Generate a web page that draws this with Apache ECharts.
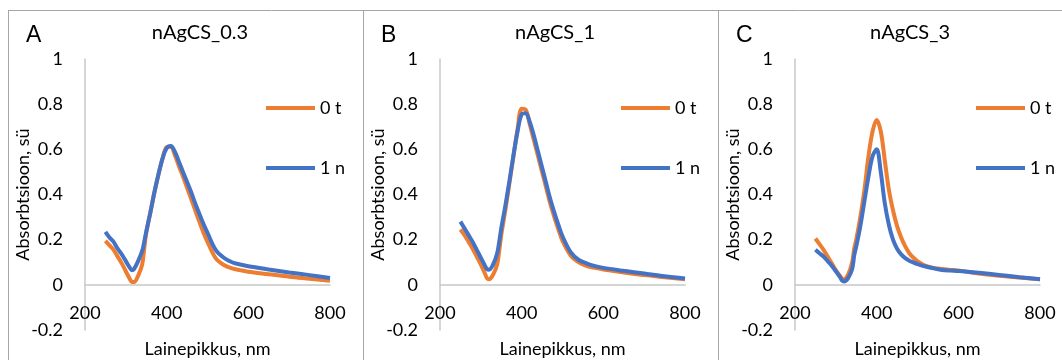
<!DOCTYPE html>
<html>
<head>
<meta charset="utf-8">
<script src="https://cdn.jsdelivr.net/npm/echarts@6/dist/echarts.min.js"></script>
<style>
html,body{margin:0;padding:0;background:#fff;}
#c{width:1062px;height:360px;}
</style>
</head>
<body>
<div id="c"></div>
<script>
const wavelengths = [250,260,270,280,290,300,310,315,320,330,340,345,350,360,370,380,390,400,410,420,430,440,450,460,470,480,490,500,520,540,560,580,600,650,700,750,800];

const panelTitles = ['nAgCS_0.3', 'nAgCS_1', 'nAgCS_3'];
const panelLetters = ['A', 'B', 'C'];
const seriesNames = ['0 t', '1 n'];

const a0t = [0.195,0.175,0.155,0.125,0.095,0.06,0.025,0.013,0.012,0.04,0.09,0.16,0.23,0.32,0.41,0.49,0.56,0.61,0.612,0.575,0.525,0.48,0.43,0.38,0.33,0.28,0.232,0.19,0.118,0.088,0.073,0.065,0.058,0.047,0.036,0.027,0.018];
const a1n = [0.235,0.21,0.19,0.16,0.135,0.105,0.075,0.065,0.07,0.105,0.15,0.19,0.235,0.32,0.41,0.49,0.56,0.605,0.615,0.59,0.545,0.5,0.455,0.41,0.36,0.315,0.27,0.23,0.155,0.12,0.1,0.09,0.082,0.068,0.055,0.043,0.03];

const b0t = [0.245,0.22,0.19,0.16,0.125,0.09,0.05,0.03,0.025,0.045,0.09,0.15,0.22,0.33,0.45,0.57,0.69,0.78,0.775,0.71,0.64,0.57,0.5,0.43,0.36,0.3,0.245,0.195,0.13,0.1,0.083,0.075,0.068,0.055,0.043,0.034,0.025];
const b1n = [0.28,0.25,0.22,0.19,0.155,0.12,0.085,0.07,0.067,0.09,0.14,0.19,0.25,0.35,0.46,0.575,0.68,0.755,0.76,0.72,0.66,0.59,0.52,0.45,0.38,0.32,0.265,0.215,0.145,0.11,0.094,0.083,0.075,0.062,0.05,0.038,0.028];

const c0t = [0.205,0.18,0.155,0.125,0.095,0.065,0.04,0.028,0.025,0.045,0.1,0.16,0.2,0.3,0.42,0.57,0.68,0.73,0.68,0.55,0.42,0.33,0.26,0.21,0.17,0.14,0.12,0.105,0.084,0.075,0.07,0.066,0.064,0.05,0.04,0.032,0.025];
const c1n = [0.155,0.14,0.125,0.105,0.085,0.06,0.035,0.02,0.015,0.03,0.07,0.13,0.17,0.26,0.37,0.48,0.57,0.6,0.5,0.36,0.265,0.2,0.16,0.135,0.118,0.107,0.099,0.092,0.081,0.073,0.066,0.063,0.061,0.053,0.044,0.034,0.025];

const xTicks = [200, 400, 600, 800];
const yTicks = [-0.2, 0, 0.2, 0.4, 0.6, 0.8, 1];

const panelData = [[a0t, a1n], [b0t, b1n], [c0t, c1n]];
const colors = ['#ED7D31', '#4472C4'];

const FONT = 'Lato, "Open Sans", sans-serif';
const panelOffsets = [0, 355, 710];

const grids = [], xAxes = [], yAxes = [], series = [], legends = [], graphics = [];

panelOffsets.forEach((off, p) => {
  grids.push({ left: 85 + off, top: 59, width: 245, height: 271, outerBoundsMode: 'none', containLabel: false });
  xAxes.push({
    type: 'value', gridIndex: p, min: xTicks[0], max: xTicks[xTicks.length - 1], interval: 200,
    axisLine: { onZero: true, lineStyle: { color: '#c8c8c8', width: 1.5 } },
    axisTick: { show: false }, splitLine: { show: false },
    axisLabel: { color: '#000', fontSize: 18, fontFamily: FONT, margin: -26 },
    name: 'Lainepikkus, nm', nameLocation: 'middle', nameGap: 10, nameMoveOverlap: false,
    nameTextStyle: { color: '#000', fontSize: 18, fontFamily: FONT }
  });
  yAxes.push({
    type: 'value', gridIndex: p, min: yTicks[0], max: yTicks[yTicks.length - 1], interval: 0.2,
    axisLine: { show: true, onZero: false, lineStyle: { color: '#c8c8c8', width: 1.5 } },
    axisTick: { show: false }, splitLine: { show: false },
    axisLabel: { color: '#000', fontSize: 18, fontFamily: FONT, margin: 22,
      formatter: v => String(Math.round(v * 10) / 10) },
    name: 'Absorbtsioon, sü', nameLocation: 'middle', nameGap: 53, nameRotate: 90, nameMoveOverlap: false,
    nameTextStyle: { color: '#000', fontSize: 18, fontFamily: FONT }
  });
  panelData[p].forEach((vals, s) => {
    series.push({
      type: 'line', name: seriesNames[s], xAxisIndex: p, yAxisIndex: p,
      data: wavelengths.map((w, i) => [w, vals[i]]),
      showSymbol: false, symbol: 'none', smooth: 0.35,
      lineStyle: { color: colors[s], width: 4 }, itemStyle: { color: colors[s] },
      z: 2 + s
    });
  });
  legends.push({
    left: 266 + off, top: 98, orient: 'vertical', itemGap: 40, padding: 0,
    itemWidth: 49, itemHeight: 4, icon: 'rect', selectedMode: false,
    textStyle: { color: '#000', fontSize: 18, fontFamily: FONT, lineHeight: 20 },
    data: seriesNames.map((n, s) => ({ name: n, itemStyle: { color: colors[s] } }))
  });
  graphics.push({
    type: 'text', left: 26 + off, top: 24,
    style: { text: panelLetters[p], font: '23px "Liberation Sans", Arial, sans-serif', fill: '#000' }
  });
  graphics.push({
    type: 'text', x: 200 + off, y: 33,
    style: { text: panelTitles[p], font: '20px ' + FONT, fill: '#000', textAlign: 'center', textVerticalAlign: 'middle' }
  });
  graphics.push({
    type: 'line', shape: { x1: 8.5 + off, y1: 10, x2: 8.5 + off, y2: 360 },
    style: { stroke: '#a6a6a6', lineWidth: 1 }
  });
});
graphics.push({
  type: 'line', shape: { x1: 8, y1: 10.5, x2: 1062, y2: 10.5 },
  style: { stroke: '#a6a6a6', lineWidth: 1 }
});

const chart = echarts.init(document.getElementById('c'), null, { renderer: 'canvas' });
chart.setOption({
  animation: false,
  backgroundColor: '#fff',
  grid: grids, xAxis: xAxes, yAxis: yAxes, series: series, legend: legends,
  graphic: graphics
});
</script>
</body>
</html>
